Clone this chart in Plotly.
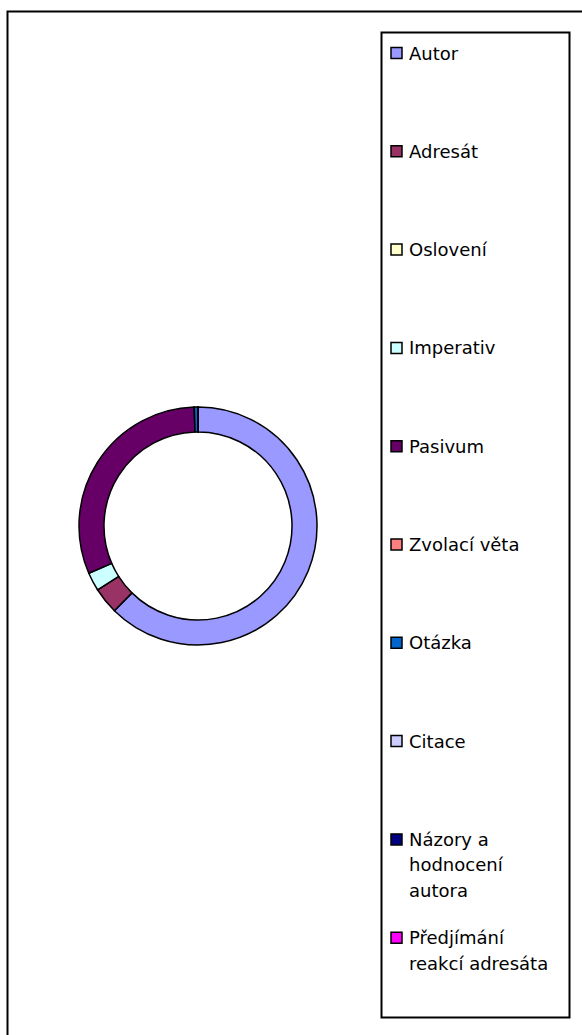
import textwrap
import plotly.graph_objects as go

# ---- data ----
labels = ["Autor", "Adresát", "Oslovení", "Imperativ", "Pasivum",
          "Zvolací věta", "Otázka", "Citace", "Názory a hodnocení autora",
          "Předjímání reakcí adresáta"]
values = [62.4, 3.6, 0.0, 2.5, 31.0, 0.0, 0.5, 0.0, 0.0, 0.0]
colors = ["#9999FF", "#993366", "#FFFFCC", "#CCFFFF", "#660066",
          "#FF8080", "#0066CC", "#CCCCFF", "#000080", "#FF00FF"]

W, H = 582, 1035

def px(x):
    return x / W

def py(y):
    return 1 - y / H

fig = go.Figure()
fig.add_trace(go.Pie(
    labels=labels, values=values, sort=False, direction="clockwise", rotation=0,
    hole=0.79, textinfo="none", showlegend=False,
    marker=dict(colors=colors, line=dict(color="black", width=1.5)),
    domain=dict(x=[px(79), px(317)], y=[py(645), py(407)]),
))

shapes = []
# outer chart border (only top/left visible)
shapes.append(dict(type="rect", xref="paper", yref="paper",
                   x0=px(7.5), y0=py(1100), x1=px(640), y1=py(11.5),
                   line=dict(color="black", width=2)))
# legend box
shapes.append(dict(type="rect", xref="paper", yref="paper",
                   x0=px(381.5), y0=py(1017.5), x1=px(569.5), y1=py(32.5),
                   line=dict(color="black", width=2), fillcolor="white", layer="below"))

annotations = []
y0, step, lh = 53, 98.3, 25.5
for i, (lab, col) in enumerate(zip(labels, colors)):
    yc = y0 + i * step
    shapes.append(dict(type="rect", xref="paper", yref="paper",
                       x0=px(391), x1=px(402), y0=py(yc + 5.5), y1=py(yc - 5.5),
                       fillcolor=col, line=dict(color="black", width=1.5)))
    for j, line in enumerate(textwrap.wrap(lab, 15)):
        annotations.append(dict(xref="paper", yref="paper", x=px(407), y=py(yc + j * lh),
                                xanchor="left", yanchor="middle", text=line,
                                showarrow=False,
                                font=dict(family="DejaVu Sans", size=18, color="black")))

fig.update_layout(width=W, height=H, margin=dict(l=0, r=0, t=0, b=0),
                  paper_bgcolor="white", plot_bgcolor="white",
                  shapes=shapes, annotations=annotations)
fig.write_html("out.html")
